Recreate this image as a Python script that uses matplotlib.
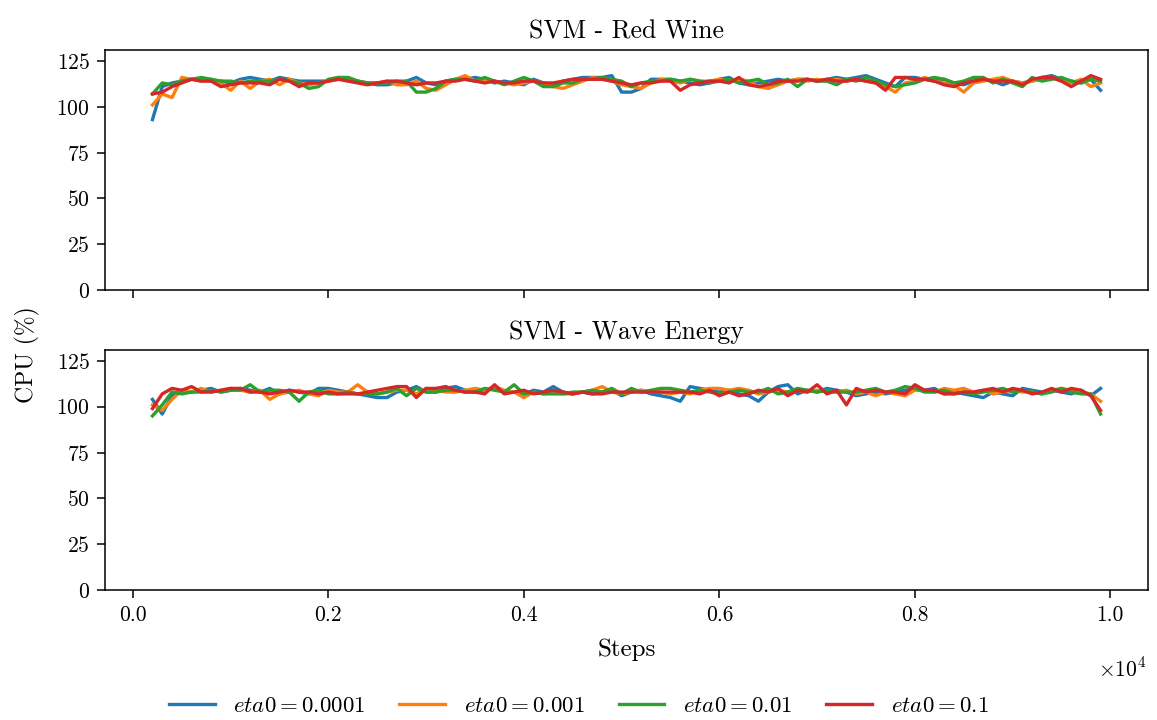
import numpy as np
import matplotlib
matplotlib.use("Agg")
import matplotlib.pyplot as plt
from matplotlib.ticker import FuncFormatter, MultipleLocator

plt.rcParams['font.family'] = 'serif'
plt.rcParams['font.serif'] = ['cmr10', 'DejaVu Serif']
plt.rcParams['mathtext.fontset'] = 'cm'
plt.rcParams['axes.formatter.use_mathtext'] = True
plt.rcParams['axes.unicode_minus'] = False

steps = list(range(200, 10000, 100))

labels = ["$eta0 = 0.0001$", "$eta0 = 0.001$", "$eta0 = 0.01$", "$eta0 = 0.1$"]
colors = ["#1f77b4", "#ff7f0e", "#2ca02c", "#d62728"]
titles = ["SVM - Red Wine", "SVM - Wave Energy"]

red_eta_0001 = [93, 111, 113, 114, 115, 115, 114, 114, 113, 115,
                116, 115, 114, 116, 115, 114, 114, 114, 114, 116,
                115, 114, 113, 112, 112, 113, 114, 116, 113, 112,
                114, 115, 115, 116, 115, 113, 114, 113, 112, 115,
                113, 112, 114, 115, 116, 116, 116, 117, 108, 108,
                110, 115, 115, 115, 114, 113, 112, 113, 115, 116,
                113, 112, 113, 114, 115, 114, 115, 115, 114, 115,
                116, 115, 116, 117, 115, 113, 111, 116, 116, 115,
                114, 115, 113, 112, 114, 115, 114, 112, 114, 113,
                114, 116, 117, 115, 114, 113, 115, 109]
red_eta_001 = [101, 107, 105, 116, 115, 114, 115, 113, 109, 114,
               110, 114, 115, 112, 115, 113, 112, 113, 114, 115,
               116, 114, 113, 113, 114, 112, 112, 114, 110, 109,
               112, 115, 117, 114, 115, 114, 113, 112, 113, 114,
               113, 111, 110, 112, 114, 116, 115, 114, 112, 111,
               110, 113, 115, 114, 113, 115, 114, 114, 115, 114,
               115, 114, 111, 110, 112, 114, 115, 114, 115, 114,
               115, 114, 115, 114, 113, 111, 108, 113, 114, 116,
               114, 113, 112, 108, 113, 114, 115, 116, 114, 113,
               114, 115, 116, 114, 113, 115, 111, 113]
red_eta_01 = [107, 113, 112, 114, 115, 116, 115, 114, 114, 113,
              114, 114, 114, 115, 114, 113, 110, 111, 115, 116,
              116, 114, 113, 113, 113, 114, 114, 108, 108, 110,
              114, 115, 115, 114, 116, 114, 112, 114, 116, 114,
              111, 111, 113, 113, 115, 115, 116, 115, 114, 111,
              113, 114, 114, 115, 114, 115, 114, 113, 114, 115,
              113, 114, 115, 112, 113, 115, 111, 115, 114, 114,
              112, 115, 114, 116, 114, 112, 111, 112, 113, 115,
              116, 115, 113, 114, 116, 116, 113, 115, 113, 111,
              116, 114, 115, 116, 114, 113, 115, 114]
red_eta_1 = [107, 108, 111, 113, 115, 114, 114, 111, 112, 113,
             113, 113, 112, 115, 114, 111, 113, 113, 114, 115,
             114, 113, 112, 113, 114, 114, 113, 112, 113, 113,
             114, 114, 115, 114, 113, 114, 113, 113, 114, 114,
             113, 113, 114, 115, 115, 115, 115, 114, 113, 112,
             113, 113, 114, 114, 109, 112, 113, 114, 114, 113,
             116, 112, 111, 112, 114, 114, 114, 115, 114, 115,
             114, 114, 115, 114, 113, 109, 116, 116, 115, 115,
             114, 112, 111, 113, 114, 115, 114, 114, 114, 112,
             115, 116, 116, 114, 111, 114, 117, 115]

wave_eta_0001 = [104, 96, 106, 109, 108, 109, 110, 108, 109, 110,
                 109, 108, 110, 107, 109, 108, 107, 110, 110, 109,
                 108, 107, 106, 105, 105, 108, 109, 111, 108, 108,
                 110, 111, 109, 108, 109, 110, 108, 108, 107, 109,
                 108, 111, 108, 107, 108, 107, 108, 109, 106, 108,
                 109, 107, 106, 105, 103, 111, 110, 109, 108, 109,
                 107, 106, 103, 108, 111, 112, 107, 109, 108, 110,
                 109, 108, 106, 107, 108, 107, 108, 109, 110, 109,
                 110, 107, 108, 107, 106, 105, 108, 107, 106, 110,
                 109, 108, 109, 108, 107, 109, 106, 110]
wave_eta_001 = [101, 98, 104, 109, 108, 110, 108, 109, 110, 109,
                108, 109, 104, 107, 108, 109, 107, 106, 109, 108,
                108, 112, 108, 107, 108, 109, 109, 107, 110, 109,
                108, 108, 109, 110, 109, 111, 109, 108, 105, 108,
                107, 108, 107, 107, 108, 109, 111, 108, 107, 108,
                109, 108, 108, 107, 108, 107, 109, 110, 110, 109,
                110, 109, 107, 108, 109, 108, 109, 108, 109, 108,
                108, 109, 107, 108, 106, 108, 107, 106, 109, 109,
                108, 110, 109, 110, 108, 109, 107, 108, 109, 108,
                108, 107, 109, 110, 109, 108, 107, 103]
wave_eta_01 = [95, 101, 108, 107, 108, 108, 109, 108, 109, 109,
               112, 108, 109, 109, 108, 103, 108, 109, 107, 107,
               108, 107, 107, 107, 108, 110, 106, 110, 108, 108,
               109, 109, 108, 108, 110, 109, 108, 112, 107, 108,
               107, 107, 107, 108, 108, 109, 108, 110, 107, 110,
               108, 109, 110, 110, 109, 108, 109, 108, 107, 108,
               109, 108, 108, 110, 107, 108, 110, 109, 108, 109,
               108, 108, 108, 109, 110, 108, 109, 111, 110, 108,
               108, 109, 107, 108, 107, 108, 109, 110, 108, 109,
               108, 107, 108, 110, 108, 107, 107, 96]
wave_eta_1 = [99, 107, 110, 109, 111, 108, 108, 109, 110, 110,
              108, 108, 107, 108, 109, 108, 108, 107, 108, 107,
              107, 107, 108, 109, 110, 111, 111, 105, 110, 110,
              111, 109, 108, 108, 107, 112, 107, 108, 109, 107,
              108, 109, 108, 107, 108, 107, 107, 108, 108, 108,
              108, 108, 108, 108, 108, 108, 107, 109, 106, 108,
              106, 107, 109, 108, 110, 106, 109, 108, 112, 107,
              109, 101, 110, 108, 109, 108, 108, 107, 112, 109,
              109, 107, 107, 108, 108, 109, 110, 108, 110, 109,
              107, 108, 110, 108, 110, 109, 106, 98]

panels = [
    [red_eta_0001, red_eta_001, red_eta_01, red_eta_1],
    [wave_eta_0001, wave_eta_001, wave_eta_01, wave_eta_1],
]

fig = plt.figure(figsize=(11.57, 7.2), dpi=100)
ax1 = fig.add_axes([0.0908, 0.5972, 0.9014, 0.3334])
ax2 = fig.add_axes([0.0908, 0.1806, 0.9014, 0.3334], sharex=ax1)
axes = [ax1, ax2]

for ax, series_list, title in zip(axes, panels, titles):
    for s, lab, c in zip(series_list, labels, colors):
        ax.plot(steps, s, color=c, lw=2.4, label=lab)
    ax.set_title(title, fontsize=18.5, pad=8)
    ax.set_ylim(0, 131)
    ax.yaxis.set_major_locator(MultipleLocator(25))
    ax.tick_params(labelsize=15.5, length=6, width=1.1, pad=5)
    for sp in ax.spines.values():
        sp.set_linewidth(1.1)

ax1.tick_params(labelbottom=False)
ax2.xaxis.set_major_locator(MultipleLocator(2000))
ax2.xaxis.set_major_formatter(FuncFormatter(lambda v, p: f"{v/1e4:.1f}"))
ax2.set_xlabel("Steps", fontsize=18, labelpad=10)
fig.text(1122/1157, 1 - 669/720, r"$\times10^{4}$", fontsize=15.5, ha="center", va="center")
fig.text(27/1157, 1 - 355/720, "CPU (%)", fontsize=17, rotation=90, ha="center", va="center")

handles, labs = ax1.get_legend_handles_labels()
fig.legend(handles, labs, loc="center", bbox_to_anchor=(0.5, 1 - 706/720), ncol=4,
           frameon=False, fontsize=16.5, handlelength=2.0, columnspacing=1.5)

fig.savefig("out.png", dpi=100)
